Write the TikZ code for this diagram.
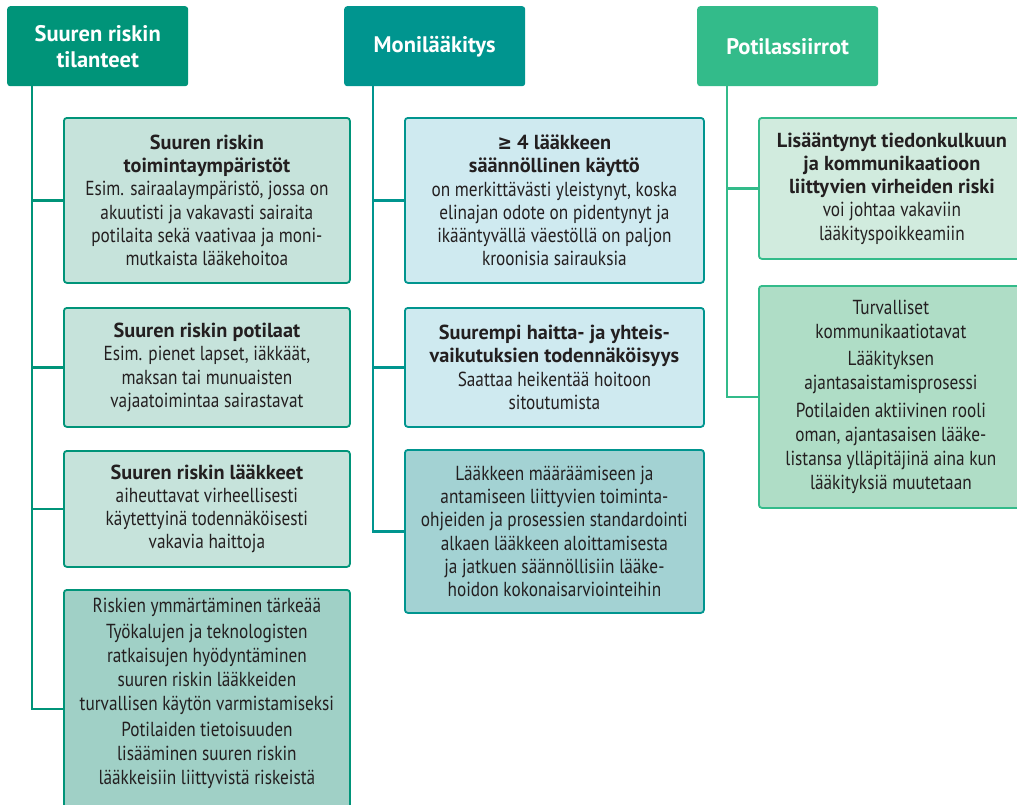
\documentclass[tikz,border=0pt]{standalone}
\usepackage{fontspec}
\setmainfont{PT Sans}[FakeStretch=0.85]
\newfontfamily\bfam{PT Sans}[FakeStretch=1.0]
\newfontfamily\symf{DejaVu Sans}[FakeStretch=0.85]
\newcommand{\B}[1]{{\bfam\bfseries #1}}
\definecolor{hA}{HTML}{009479}
\definecolor{hB}{HTML}{00958F}
\definecolor{hC}{HTML}{33BB8A}
\definecolor{fA}{HTML}{C6E3DB}
\definecolor{fAd}{HTML}{A0D0C6}
\definecolor{fB}{HTML}{CFEAF0}
\definecolor{fBd}{HTML}{A3D2D3}
\definecolor{fC}{HTML}{D1EBDE}
\definecolor{fCd}{HTML}{AFDDC6}
\definecolor{txt}{HTML}{231F20}
\tikzset{
  head/.style={rounded corners=3pt, minimum width=181pt, minimum height=80pt, anchor=north west, inner sep=0pt, text=white, align=center, font=\fontsize{22.5}{26}\selectfont\bfam\bfseries},
  card/.style={rounded corners=3pt, line width=1.8pt, anchor=north west, inner sep=0pt, text=txt, align=center, font=\fontsize{20.3}{23.2}\selectfont},
  link/.style={line width=2.4pt},
}
\begin{document}
\begin{tikzpicture}[x=1pt,y=-1pt]
\useasboundingbox (0,0) rectangle (1017,804);
\clip (0,0) rectangle (1017,804);
% headers
\node[head, fill=hA] (h1) at (7,6) {Suuren riskin\\tilanteet};
\node[head, fill=hB] (h2) at (344,6) {Monilääkitys};
\node[head, fill=hC] (h3) at (697,6) {Potilassiirrot};
% column 1
\node[card, draw=hA, fill=fA, minimum width=286pt, minimum height=165pt] (a1) at (63,117)
 {\B{Suuren riskin}\\\B{toimintaympäristöt}\\Esim. sairaalaympäristö, jossa on\\akuutisti ja vakavasti sairaita\\potilaita sekä vaativaa ja moni-\\mutkaista lääkehoitoa};
\node[card, draw=hA, fill=fA, minimum width=286pt, minimum height=119pt] (a2) at (63,307)
 {\B{Suuren riskin potilaat}\\Esim. pienet lapset, iäkkäät,\\maksan tai munuaisten\\vajaatoimintaa sairastavat};
\node[card, draw=hA, fill=fA, minimum width=286pt, minimum height=116pt] (a3) at (63,450)
 {\B{Suuren riskin lääkkeet}\\aiheuttavat virheellisesti\\käytettyinä todennäköisesti\\vakavia haittoja};
\node[card, draw=hA, fill=fAd, minimum width=286pt, minimum height=238pt] (a4) at (63,589) {};
\node[text=txt, align=center, anchor=north, inner sep=0pt, font=\fontsize{20.3}{24}\selectfont] (a4t) at ([yshift=-9pt]a4.north)
 {Riskien ymmärtäminen tärkeää\\[2pt]Työkalujen ja teknologisten\\ratkaisujen hyödyntäminen\\suuren riskin lääkkeiden\\turvallisen käytön varmistamiseksi\\[2pt]Potilaiden tietoisuuden\\lisääminen suuren riskin\\lääkkeisiin liittyvistä riskeistä};
% column 2
\node[card, draw=hB, fill=fB, minimum width=299pt, minimum height=165pt] (b1) at (404,117)
 {\B{{\symf\bfseries ≥} 4 lääkkeen}\\\B{säännöllinen käyttö}\\on merkittävästi yleistynyt, koska\\elinajan odote on pidentynyt ja\\ikääntyvällä väestöllä on paljon\\kroonisia sairauksia};
\node[card, draw=hB, fill=fB, minimum width=299pt, minimum height=119pt] (b2) at (404,307)
 {\B{Suurempi haitta- ja yhteis-}\\\B{vaikutuksien todennäköisyys}\\Saattaa heikentää hoitoon\\sitoutumista};
\node[card, draw=hB, fill=fBd, minimum width=299pt, minimum height=163pt] (b3) at (404,449)
 {Lääkkeen määräämiseen ja\\antamiseen liittyvien toiminta-\\ohjeiden ja prosessien standardointi\\alkaen lääkkeen aloittamisesta\\ja jatkuen säännöllisiin lääke-\\hoidon kokonaisarviointeihin};
% column 3
\node[card, draw=hC, fill=fC, minimum width=266pt, minimum height=141pt] (c1) at (758,117)
 {\B{Lisääntynyt tiedonkulkuun}\\\B{ja kommunikaatioon}\\\B{liittyvien virheiden riski}\\voi johtaa vakaviin\\lääkityspoikkeamiin};
\node[card, draw=hC, fill=fCd, minimum width=264pt, minimum height=222pt, font=\fontsize{20.3}{24.2}\selectfont] (c2) at (758,285)
 {Turvalliset\\kommunikaatiotavat\\[3pt]Lääkityksen\\ajantasaistamisprosessi\\[3pt]Potilaiden aktiivinen rooli\\oman, ajantasaisen lääke-\\listansa ylläpitäjinä aina kun\\lääkityksiä muutetaan};
% connectors
\coordinate (s1) at ([xshift=25pt]h1.south west);
\coordinate (s2) at ([xshift=29pt]h2.south west);
\coordinate (s3) at ([xshift=30pt]h3.south west);
\draw[link, hA] (s1) |- (a4.west);
\draw[link, hA] (a1.west) -- (a1.west -| s1);
\draw[link, hA] (a2.west) -- (a2.west -| s1);
\draw[link, hA] (a3.west) -- (a3.west -| s1);
\draw[link, hB] (s2) |- (b3.west);
\draw[link, hB] (b1.west) -- (b1.west -| s2);
\draw[link, hB] (b2.west) -- (b2.west -| s2);
\draw[link, hC] (s3) |- (c2.west);
\draw[link, hC] (c1.west) -- (c1.west -| s3);
\end{tikzpicture}
\end{document}
